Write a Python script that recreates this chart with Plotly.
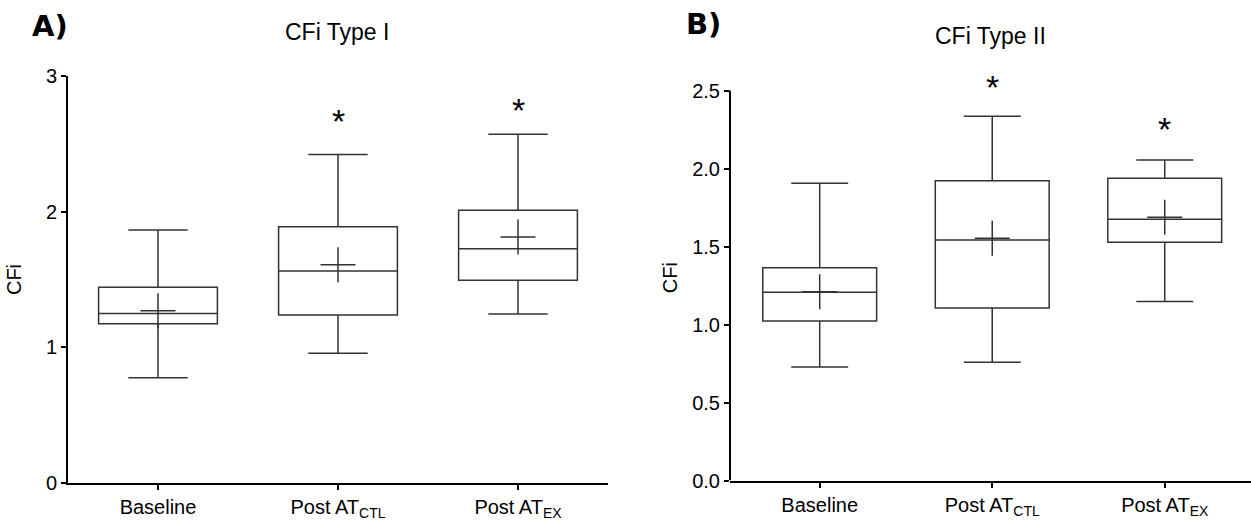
import plotly.graph_objects as go

categories = ["Baseline", "Post AT<sub>CTL</sub>", "Post AT<sub>EX</sub>"]

# Panel A: CFi Type I
a_low = [0.776, 0.956, 1.245]
a_q1 = [1.174, 1.238, 1.494]
a_med = [1.250, 1.562, 1.727]
a_q3 = [1.442, 1.889, 2.010]
a_high = [1.864, 2.422, 2.570]
a_mean = [1.270, 1.609, 1.813]
a_star_cats = ["Post AT<sub>CTL</sub>", "Post AT<sub>EX</sub>"]
a_star_y = [2.665, 2.75]
a_ticks = [0, 1, 2, 3]
a_ticktext = ["0", "1", "2", "3"]

# Panel B: CFi Type II
b_low = [0.728, 0.758, 1.147]
b_q1 = [1.023, 1.106, 1.528]
b_med = [1.207, 1.542, 1.675]
b_q3 = [1.363, 1.921, 1.938]
b_high = [1.906, 2.335, 2.055]
b_mean = [1.210, 1.553, 1.688]
b_star_cats = ["Post AT<sub>CTL</sub>", "Post AT<sub>EX</sub>"]
b_star_y = [2.525, 2.25]
b_ticks = [0, 0.5, 1.0, 1.5, 2.0, 2.5]
b_ticktext = ["0.0", "0.5", "1.0", "1.5", "2.0", "2.5"]

W, H = 1251, 521
FONT = "Liberation Sans, Arial, sans-serif"
LINE = "#333333"

fig = go.Figure()
star_annotations = []

def add_panel(xa, ya, low, q1, med, q3, high, mean, star_cats, star_y):
    fig.add_trace(go.Box(
        x=categories, q1=q1, median=med, q3=q3,
        lowerfence=low, upperfence=high,
        boxpoints=False, width=0.66, whiskerwidth=0.5,
        fillcolor="white", line=dict(color=LINE, width=1.5),
        xaxis=xa, yaxis=ya, showlegend=False, hoverinfo="skip",
    ))
    fig.add_trace(go.Scatter(
        x=categories, y=mean, mode="markers",
        marker=dict(symbol="cross-thin", size=25,
                    line=dict(color=LINE, width=1.5)),
        xaxis=xa, yaxis=ya, showlegend=False, hoverinfo="skip",
    ))
    for c, yv in zip(star_cats, star_y):
        star_annotations.append(dict(
            text="*", x=c, y=yv, xref=xa, yref=ya,
            xanchor="center", yanchor="middle", showarrow=False,
            font=dict(family=FONT, size=34, color="black"),
        ))

add_panel("x", "y", a_low, a_q1, a_med, a_q3, a_high, a_mean, a_star_cats, a_star_y)
add_panel("x2", "y2", b_low, b_q1, b_med, b_q3, b_high, b_mean, b_star_cats, b_star_y)

axis_common = dict(
    linecolor="black", linewidth=2,
    ticks="outside", ticklen=5, tickwidth=1.5, tickcolor="black",
    showgrid=False, zeroline=False, automargin=False,
    tickfont=dict(family=FONT, size=20, color="black"),
)

title_font = dict(family=FONT, size=20, color="black")

# right panel: axis range extends a little above the top tick so the
# asterisk above Post AT_CTL stays visible; axis line is drawn up to the top tick
b_bottom_px, b_top_px = 480.5, 90.5
b_ppu = (b_bottom_px - b_top_px) / b_ticks[-1]
b_range_top = 2.6
b_dom_top_px = b_bottom_px - b_range_top * b_ppu

fig.update_layout(
    template="none",
    width=W, height=H,
    margin=dict(l=0, r=0, t=0, b=0, autoexpand=False),
    plot_bgcolor="white", paper_bgcolor="white",
    xaxis=dict(domain=[68 / W, 608 / W], range=[-0.5, 2.5], anchor="y",
               type="category", showline=True, **axis_common),
    yaxis=dict(domain=[(H - 483) / H, (H - 76) / H], range=[a_ticks[0], a_ticks[-1]], anchor="x",
               tickvals=a_ticks, ticktext=a_ticktext, showline=True,
               title=dict(text="CFi", font=title_font, standoff=19),
               **axis_common),
    xaxis2=dict(domain=[730 / W, 1.0], range=[-0.52, 2.5], anchor="y2",
                type="category", showline=True, **axis_common),
    yaxis2=dict(domain=[(H - b_bottom_px) / H, (H - b_dom_top_px) / H],
                range=[b_ticks[0], b_range_top], anchor="x2",
                tickvals=b_ticks, ticktext=b_ticktext, showline=False,
                title=dict(text="CFi", font=title_font, standoff=9),
                **axis_common),
    shapes=[
        dict(type="line", xref="x2 domain", yref="y2", x0=0, x1=0,
             y0=b_ticks[0], y1=b_ticks[-1], line=dict(color="black", width=2)),
    ],
    annotations=[
        dict(text="CFi Type I", x=337 / W, y=1 - 32 / H, xref="paper", yref="paper",
             xanchor="center", yanchor="middle",
             showarrow=False, font=dict(family=FONT, size=23, color="black")),
        dict(text="CFi Type II", x=990 / W, y=1 - 36 / H, xref="paper", yref="paper",
             xanchor="center", yanchor="middle",
             showarrow=False, font=dict(family=FONT, size=23, color="black")),
        dict(text="<b>A)</b>", x=50 / W, y=1 - 26 / H, xref="paper", yref="paper",
             xanchor="center", yanchor="middle",
             showarrow=False, font=dict(family="DejaVu Sans", size=29, color="black")),
        dict(text="<b>B)</b>", x=703 / W, y=1 - 24 / H, xref="paper", yref="paper",
             xanchor="center", yanchor="middle",
             showarrow=False, font=dict(family="DejaVu Sans", size=29, color="black")),
    ] + star_annotations,
)

fig.write_html(
    "out.html",
    config={"displayModeBar": False},
    post_script="document.body.style.margin='0px';document.body.style.overflow='hidden';",
)
